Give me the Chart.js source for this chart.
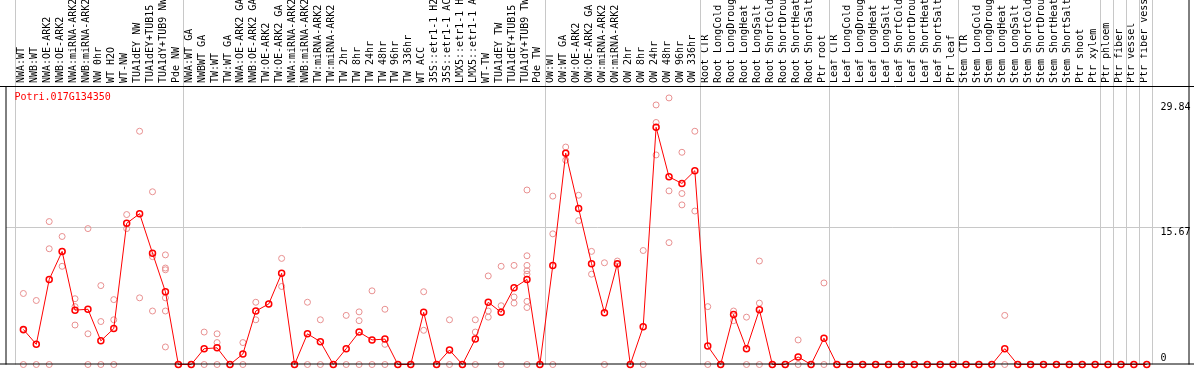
<!DOCTYPE html>
<html lang="en">
<head>
  <meta charset="UTF-8">
  <title>Potri.017G134350</title>
  <style>
    body { margin: 0; padding: 0; background: #fff; }
    canvas { display: block; }
  </style>
  <script src="https://cdn.jsdelivr.net/npm/chart.js"></script>
</head>
<body>
  <canvas id="chartCanvas" width="1194" height="370"></canvas>

  <script>
    const geneName = 'Potri.017G134350';

    const categories = [
      'NWA:WT', 'NWB:WT', 'NWA:OE-ARK2', 'NWB:OE-ARK2', 'NWA:miRNA-ARK2', 'NWB:miRNA-ARK2',
      'NW 0hr', 'WT H2O', 'WT-NW', 'TUA1dEY NW', 'TUA1dEY+TUB15', 'TUA1dY+TUB9 NW', 'Pde NW',
      'NWA:WT GA', 'NWBWT GA', 'TW:WT', 'TW:WT GA', 'NWA:OE-ARK2 GA', 'NWB:OE-ARK2 GA',
      'TW:OE-ARK2', 'TW:OE-ARK2 GA', 'NWA:miRNA-ARK2', 'NWB:miRNA-ARK2', 'TW:miRNA-ARK2',
      'TW:miRNA-ARK2', 'TW 2hr', 'TW 8hr', 'TW 24hr', 'TW 48hr', 'TW 96hr', 'TW 336hr',
      'WT ACC', '35S::etr1-1 H2O', '35S::etr1-1 ACC', 'LMX5::etr1-1 H2O', 'LMX5::etr1-1 ACC',
      'WT-TW', 'TUA1dEY TW', 'TUA1dEY+TUB15', 'TUA1dY+TUB9 TW', 'Pde TW',
      'OW:WT', 'OW:WT GA', 'OW:OE-ARK2', 'OW:OE-ARK2 GA', 'OW:miRNA-ARK2', 'OW:miRNA-ARK2',
      'OW 2hr', 'OW 8hr', 'OW 24hr', 'OW 48hr', 'OW 96hr', 'OW 336hr',
      'Root CTR', 'Root LongCold', 'Root LongDrought', 'Root LongHeat', 'Root LongSalt',
      'Root ShortCold', 'Root ShortDrought', 'Root ShortHeat', 'Root ShortSalt', 'Ptr root',
      'Leaf CTR', 'Leaf LongCold', 'Leaf LongDrought', 'Leaf LongHeat', 'Leaf LongSalt',
      'Leaf ShortCold', 'Leaf ShortDrought', 'Leaf ShortHeat', 'Leaf ShortSalt', 'Ptr leaf',
      'Stem CTR', 'Stem LongCold', 'Stem LongDrought', 'Stem LongHeat', 'Stem LongSalt',
      'Stem ShortCold', 'Stem ShortDrought', 'Stem ShortHeat', 'Stem ShortSalt', 'Ptr shoot',
      'Ptr xylem', 'Ptr phloem', 'Ptr fiber', 'Ptr vessel', 'Ptr fiber vessel'
    ];

    // last category index of each sample group (separator drawn after it)
    const groupEnds = [12, 40, 52, 62, 72, 83, 84, 85, 86, 87];

    // mean expression per category
    const meanExpr = [
      4.0, 2.3, 9.7, 12.9, 6.2, 6.3, 2.7, 4.1, 16.1, 17.2, 12.7, 8.3, 0,
      0, 1.8, 1.9, 0, 1.2, 6.1, 6.9, 10.4, 0, 3.5, 2.6, 0, 1.8, 3.7, 2.8, 2.9, 0, 0,
      5.95, 0, 1.65, 0, 2.9, 7.1, 5.95, 8.75, 9.7, 0,
      11.3, 24.1, 17.8, 11.5, 5.9, 11.5, 0, 4.3, 27.05, 21.4, 20.65, 22.1,
      2.1, 0, 5.7, 1.8, 6.25, 0, 0, 0.86, 0, 3.0,
      0, 0, 0, 0, 0, 0, 0, 0, 0, 0,
      0, 0, 0, 1.8, 0, 0, 0, 0, 0, 0,
      0, 0, 0, 0, 0
    ];

    // individual replicate values per category
    const replicates = [
      [8.1, 3.9, 0], [7.3, 0], [16.3, 13.2, 0], [14.6, 12.9, 11.2], [7.5, 6.6, 4.5],
      [15.5, 3.5, 0], [9.0, 4.9, 0], [7.4, 5.1, 0], [17.1, 15.5], [26.6, 7.6],
      [19.7, 12.3, 6.1], [12.5, 11.0, 10.8, 7.6, 6.1, 2.0], [0],
      [0], [3.7, 0], [3.5, 2.5, 0], [0], [2.5, 0], [7.1, 5.1], [6.9], [12.1, 8.9],
      [0], [7.1, 0], [5.1, 0], [0], [5.6, 0], [6.0, 5.0, 0], [8.4, 0], [6.3, 2.3, 0],
      [0], [0], [8.3, 3.9], [0], [5.1, 0], [0], [5.1, 3.7, 0], [10.1, 6.1, 5.4],
      [11.2, 6.7, 0], [11.3, 7.7, 7.0], [19.9, 12.4, 11.3, 10.7, 10.3, 7.2, 6.5, 0], [0],
      [19.2, 14.9, 0], [24.8, 23.3], [19.3, 16.4], [12.9, 10.3], [11.6, 0], [11.8, 11.4],
      [0], [13.0, 0], [29.6, 27.6, 23.9], [30.4, 19.8, 13.9], [24.2, 19.5, 18.2], [26.6, 17.5],
      [6.6, 0], [0], [6.1, 5.0], [5.4, 0], [11.8, 7.0, 0], [0], [0], [2.8, 0], [0], [9.3, 0],
      [0], [0], [0], [0], [0], [0], [0], [0], [0], [0],
      [0], [0], [0], [5.6, 0], [0], [0], [0], [0], [0], [0],
      [0], [0], [0], [0], [0]
    ];

    const yTickValues = [0, 15.67, 29.84];
    const yTickLabels = ['0', '15.67', '29.84'];

    const FONT = 'DejaVu Sans Mono';

    const meanPoints = meanExpr.map((v, i) => ({ x: i, y: v }));
    const repPoints = [];
    replicates.forEach((vals, i) => vals.forEach(v => repPoints.push({ x: i, y: v })));

    // grey group separators, black frame, y labels and gene name
    const decorations = {
      id: 'decorations',
      beforeDatasetsDraw(chart) {
        const { ctx, chartArea: a, scales: { x } } = chart;
        ctx.save();
        ctx.strokeStyle = '#c8c8c8';
        ctx.lineWidth = 1;
        [-1, ...groupEnds].forEach(i => {
          const px = Math.round(x.getPixelForValue(i + 0.5) - 1.5) + 0.5;
          ctx.beginPath();
          ctx.moveTo(px, 0);
          ctx.lineTo(px, a.bottom);
          ctx.stroke();
        });
        ctx.restore();
      },
      afterDraw(chart) {
        const { ctx, chartArea: a, scales: { y }, width } = chart;
        ctx.save();
        ctx.strokeStyle = '#000';
        ctx.lineWidth = 1;
        ctx.beginPath();
        ctx.moveTo(0, a.top + 0.5); ctx.lineTo(width, a.top + 0.5);
        ctx.moveTo(0, a.bottom - 0.5); ctx.lineTo(width, a.bottom - 0.5);
        ctx.moveTo(a.left + 0.5, a.top); ctx.lineTo(a.left + 0.5, a.bottom);
        ctx.moveTo(a.right + 0.5, 0); ctx.lineTo(a.right + 0.5, a.bottom);
        ctx.stroke();

        ctx.font = '10px "' + FONT + '"';
        ctx.fillStyle = '#000';
        ctx.textAlign = 'left';
        yTickValues.forEach((v, k) => {
          const py = y.getPixelForValue(v);
          if (v === 0) {
            ctx.textBaseline = 'bottom';
            ctx.fillText(yTickLabels[k], a.right - 28, py - 1);
          } else {
            ctx.textBaseline = 'top';
            ctx.fillText(yTickLabels[k], a.right - 28, py);
          }
        });

        ctx.fillStyle = '#ff0000';
        ctx.textBaseline = 'middle';
        ctx.fillText(geneName, a.left + 9, a.top + 11);
        ctx.restore();
      }
    };

    const ctx = document.getElementById('chartCanvas').getContext('2d');
    new Chart(ctx, {
      type: 'scatter',
      data: {
        datasets: [
          {
            label: 'mean',
            data: meanPoints,
            showLine: true,
            borderColor: '#ff0000',
            borderWidth: 1,
            pointRadius: 3,
            pointBorderWidth: 1.5,
            pointBorderColor: '#ff0000',
            pointBackgroundColor: 'rgba(0,0,0,0)',
            tension: 0,
            clip: false,
            order: 0
          },
          {
            label: 'replicates',
            data: repPoints,
            showLine: false,
            pointRadius: 3,
            pointBorderWidth: 1,
            pointBorderColor: '#e89090',
            pointBackgroundColor: 'rgba(0,0,0,0)',
            clip: false,
            order: 1
          }
        ]
      },
      options: {
        responsive: false,
        animation: false,
        layout: { padding: { left: 1, right: 2, top: 0, bottom: 1 } },
        plugins: { legend: { display: false }, tooltip: { enabled: false } },
        scales: {
          x: {
            type: 'linear',
            position: 'top',
            min: -18 / 13,
            max: 1173 / 13,
            grid: { display: false, drawTicks: false },
            border: { display: false },
            afterBuildTicks: s => { s.ticks = categories.map((_, i) => ({ value: i })); },
            afterFit: s => { s.height = 86; },
            ticks: {
              autoSkip: false,
              minRotation: 90,
              maxRotation: 90,
              padding: 3,
              labelOffset: 10,
              color: '#000',
              font: { family: FONT, size: 10 },
              callback: v => categories[v]
            }
          },
          y: {
            type: 'linear',
            position: 'left',
            min: 0,
            max: 31.76,
            afterBuildTicks: s => { s.ticks = yTickValues.map(v => ({ value: v })); },
            afterFit: s => { s.width = 0; },
            border: { display: false },
            grid: {
              drawTicks: false,
              color: c => (c.tick && c.tick.value === 15.67 ? '#c8c8c8' : 'rgba(0,0,0,0)')
            },
            ticks: { display: false }
          }
        }
      },
      plugins: [decorations]
    });
  </script>
</body>
</html>
